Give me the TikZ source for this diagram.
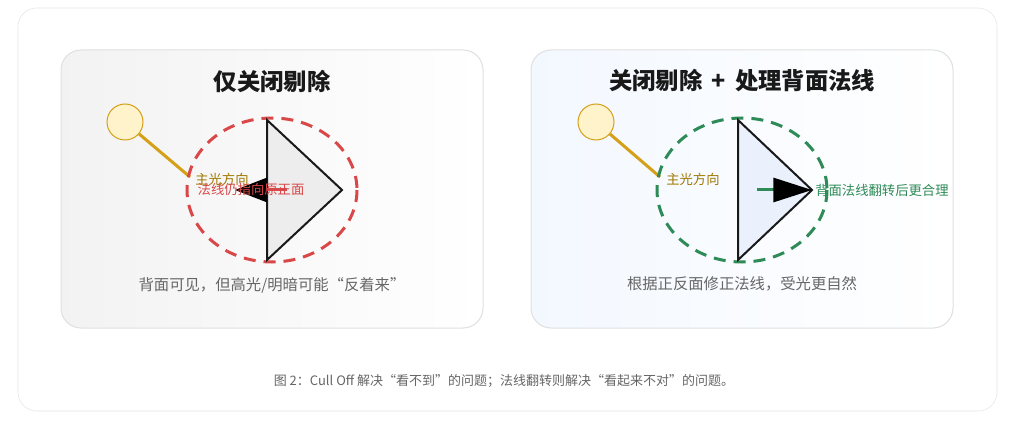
\documentclass[tikz,border=0pt]{standalone}
\usepackage{fontspec}
\setmainfont{Noto Sans CJK SC}
\definecolor{gold1}{RGB}{212, 160, 23}
\definecolor{goldtext}{RGB}{160, 120, 0}
\definecolor{lightfill}{RGB}{255, 243, 204}
\definecolor{red1}{RGB}{217, 72, 72}
\definecolor{green1}{RGB}{46, 139, 87}
\definecolor{panelline}{RGB}{224, 224, 224}
\definecolor{bluefill}{RGB}{243, 248, 255}
\definecolor{trifill}{RGB}{234, 241, 253}
\usetikzlibrary{arrows.meta, positioning}

\begin{document}
\begin{tikzpicture}[x=0.75pt, y=-0.75pt,
  panel/.style={draw=panelline, line width=0.75pt, rounded corners=15pt},
  title/.style={font=\fontsize{17.5}{21}\selectfont\bfseries, text=black!90},
  sub/.style={font=\fontsize{11.5}{14}\selectfont, text=black!60},
  lamp/.style={circle, draw=gold1, fill=lightfill, line width=0.75pt, minimum size=27pt, inner sep=0pt},
  ray/.style={draw=gold1, line width=2.25pt},
  lbl/.style={font=\fontsize{10}{12}\selectfont, inner sep=0pt},
  face/.style={draw=black!90, line width=1.5pt, line join=miter}]
  \useasboundingbox (0,0) rectangle (1017,431);
  % card
  \draw[draw=black!10, fill=white, rounded corners=14pt] (18,8) rectangle (997,411);

  % left panel: only cull off
  \draw[panel, left color=black!5, right color=white] (61,50) rectangle (483,328);
  \node[title] (ltitle) at (272,81) {仅关闭剔除};
  \node[lamp] (llamp) at (125,122) {};
  \coordinate (lray) at (190,177);
  \draw[ray] (llamp) -- (lray);
  \draw[red1, line width=2.25pt, dash pattern=on 9pt off 6pt] (272,190) ellipse [x radius=85, y radius=72];
  \draw[face, fill=black!7] (267,120) -- (267,260) -- (342,190) -- cycle;
  \coordinate (lnorm) at (287,190);
  \coordinate (ltip) at (235,190);
  \draw[red1, line width=2.25pt, -{Triangle[length=24pt, width=18pt, color=black]}] (lnorm) -- (ltip);
  \node[lbl, text=goldtext, anchor=west] (llight) at (195,179) {主光方向};
  \node[lbl, text=red1] (lnote) at (251,189) {法线仍指向原正面};
  \node[sub] (lsub) at (272,285) {背面可见，但高光/明暗可能“反着来”};

  % right panel: cull off + flip back normal
  \draw[panel, left color=bluefill, right color=white] (531,50) rectangle (953,328);
  \node[title] (rtitle) at (742,81) {关闭剔除 \,+\, 处理背面法线};
  \node[lamp] (rlamp) at (596,122) {};
  \coordinate (rray) at (660,177);
  \draw[ray] (rlamp) -- (rray);
  \draw[green1, line width=2.25pt, dash pattern=on 9pt off 6pt] (742,190) ellipse [x radius=85, y radius=72];
  \draw[face, fill=trifill] (738,120) -- (738,260) -- (812,190) -- cycle;
  \coordinate (rnorm) at (757,190);
  \coordinate (rtip) at (812,190);
  \draw[green1, line width=2.25pt, -{Triangle[length=29pt, width=18pt, color=black]}] (rnorm) -- (rtip);
  \node[lbl, text=goldtext, anchor=west] (rlight) at (666,179) {主光方向};
  \node[lbl, text=green1, anchor=west] (rnote) at (815,190) {背面法线翻转后更合理};
  \node[sub] (rsub) at (742,284) {根据正反面修正法线，受光更自然};

  % caption
  \node[font=\fontsize{9.75}{12}\selectfont, text=black!60] (cap) at (504,381) {图 2：Cull Off 解决“看不到”的问题；法线翻转则解决“看起来不对”的问题。};
\end{tikzpicture}
\end{document}
